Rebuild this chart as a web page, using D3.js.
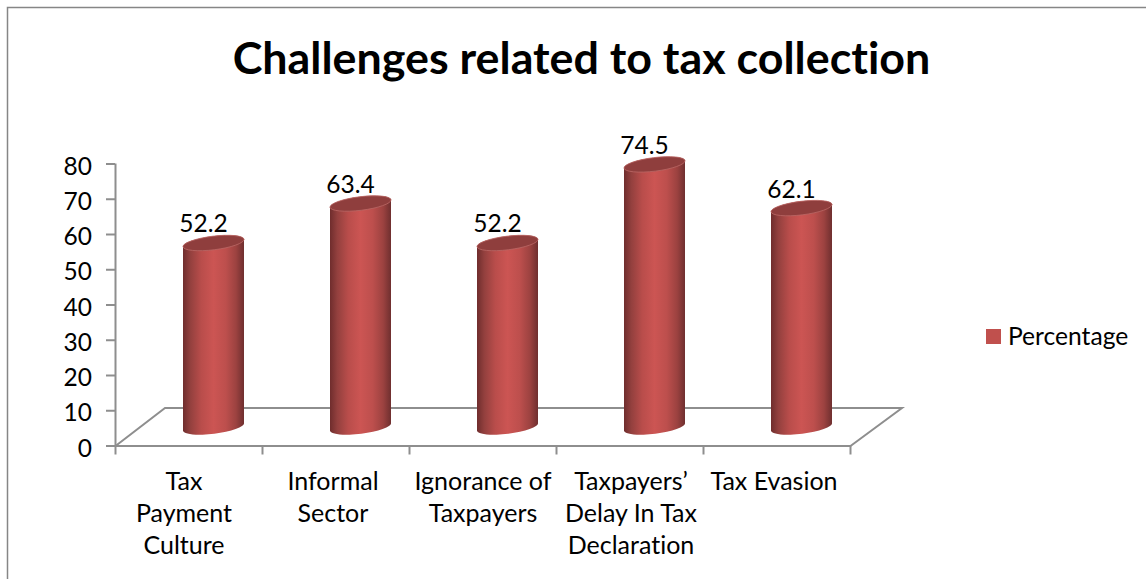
<!DOCTYPE html>
<html>
<head>
<meta charset="utf-8">
<script src="https://cdn.jsdelivr.net/npm/d3@7/dist/d3.min.js"></script>
<style>
html, body { margin: 0; padding: 0; background: #fff; }
svg { display: block; }
text { font-family: Lato, "Open Sans", sans-serif; fill: #000; font-variant-ligatures: none; }
</style>
</head>
<body>
<script>
const categories = ["Tax Payment Culture", "Informal Sector", "Ignorance of Taxpayers", "Taxpayers’ Delay In Tax Declaration", "Tax Evasion"];
const categoryLines = [
  ["Tax", "Payment", "Culture"],
  ["Informal", "Sector"],
  ["Ignorance of", "Taxpayers"],
  ["Taxpayers’", "Delay In Tax", "Declaration"],
  ["Tax Evasion"]
];
const percentages = [52.2, 63.4, 52.2, 74.5, 62.1];
const yTicks = [0, 10, 20, 30, 40, 50, 60, 70, 80];
const titleText = "Challenges related to tax collection";
const seriesName = "Percentage";

const width = 1146, height = 579;
const plot = { left: 115, right: 850, top: 163.5, bottom: 445.5 };
const depth = { dx: 50, dy: -38 };           // floor offset from front edge to back edge
const barW = 61, ellipseRy = 6.8, tilt = -7;
const axisColor = "#8e8e8e";

const svg = d3.select("body").append("svg").attr("width", width).attr("height", height);
const defs = svg.append("defs");

// Horizontal shading that gives each column its rounded look
const shade = defs.append("linearGradient").attr("id", "cylinder");
[[0, "#6f2d2d"], [0.12, "#93403e"], [0.3, "#b94d4b"], [0.5, "#cc5553"], [0.7, "#bd4f4d"], [0.87, "#9c4240"], [1, "#6f2f2f"]]
  .forEach(([o, c]) => shade.append("stop").attr("offset", o).attr("stop-color", c));

// Outer chart frame: only the top and left edges fall inside the view
svg.append("path")
  .attr("d", d3.line()([[7.5, height], [7.5, 7.5], [width, 7.5]]))
  .attr("fill", "none").attr("stroke", "#868686").attr("stroke-width", 1.5);

svg.append("text").attr("x", 581.5).attr("y", 74)
  .attr("text-anchor", "middle").attr("font-weight", 700).attr("font-size", 44.8)
  .text(titleText);

const y = d3.scaleLinear().domain([0, 80]).range([plot.bottom, plot.top]);
const x = d3.scaleBand().domain(categories).range([plot.left, plot.right]);
const xEdges = d3.scaleLinear().domain([0, categories.length]).range([plot.left, plot.right]);

// Floor of the 3D plot area
svg.append("path")
  .attr("d", d3.line()([
    [plot.left + 0.5, plot.bottom + 0.5],
    [plot.left + depth.dx, plot.bottom + depth.dy + 0.5],
    [plot.right + depth.dx + 2, plot.bottom + depth.dy + 0.5],
    [plot.right + 0.5, plot.bottom + 0.5]
  ]))
  .attr("fill", "none").attr("stroke", axisColor).attr("stroke-width", 2);

const yAxis = svg.append("g").attr("transform", `translate(${plot.left},0)`)
  .call(d3.axisLeft(y).tickValues(yTicks).tickSize(9).tickPadding(14));
const xAxis = svg.append("g").attr("transform", `translate(0,${plot.bottom})`)
  .call(d3.axisBottom(xEdges).tickValues(d3.range(categories.length + 1)).tickSize(9).tickFormat(""));
[yAxis, xAxis].forEach(g => {
  g.selectAll("path, line").attr("stroke", axisColor).attr("stroke-width", 2);
  g.select(".domain").attr("d", g === yAxis
    ? `M0.5,${plot.top}V${plot.bottom + 1}`
    : `M${plot.left},0.5H${plot.right + 1}`);
});
yAxis.selectAll("text").attr("font-size", 24.5).style("font-family", "Lato").attr("fill", "#000")
  .attr("dy", "0.43em");

const rad = tilt * Math.PI / 180;
const rx = barW / 2 / Math.cos(rad);
const halfRise = barW / 2 * Math.tan(rad);

const bars = svg.append("g").selectAll("g").data(categories).join("g");
const cx = d => x(d) + x.bandwidth() / 2 + depth.dx / 2;
const base = () => plot.bottom + 0.5 + depth.dy / 2;
const topY = (d, i) => base() - (plot.bottom - y(percentages[i]));

// Column body: straight sides closed by the lower arc and the far rim
bars.append("path")
  .attr("d", (d, i) => {
    const l = cx(d) - barW / 2, r = cx(d) + barW / 2, t = topY(d, i), b = base();
    return `M${l},${t - halfRise}L${l},${b - halfRise}`
      + `A${rx},${ellipseRy} ${tilt} 0 0 ${r},${b + halfRise}`
      + `L${r},${t + halfRise}`
      + `A${rx},${ellipseRy} ${tilt} 0 0 ${l},${t - halfRise}Z`;
  })
  .attr("fill", "url(#cylinder)");

// Column top cap
bars.append("ellipse")
  .attr("rx", rx).attr("ry", ellipseRy)
  .attr("transform", (d, i) => `translate(${cx(d)},${topY(d, i)}) rotate(${tilt})`)
  .attr("fill", "#8f3e3d").attr("stroke", "#b96664").attr("stroke-width", 0.8);

// Value labels above the caps
bars.append("text")
  .attr("x", d => cx(d) - 10)
  .attr("y", (d, i) => topY(d, i) - 10.5)
  .attr("text-anchor", "middle").attr("font-size", 24.5)
  .text((d, i) => percentages[i]);

// Wrapped category labels
const labelNudge = [-4.5, -2.5, 0.5, 1.5, -2.5];
const catLabels = svg.append("g").selectAll("text").data(categories).join("text")
  .attr("text-anchor", "middle").attr("font-size", 25);
catLabels.each(function (d, i) {
  d3.select(this).selectAll("tspan").data(categoryLines[i]).join("tspan")
    .attr("x", x(d) + x.bandwidth() / 2 + labelNudge[i])
    .attr("y", (l, j) => 490 + j * 32)
    .text(l => l);
});

// Legend
const legend = svg.append("g").attr("transform", "translate(986,329)");
legend.append("rect").attr("width", 15).attr("height", 15).attr("fill", "#c0504d");
legend.append("text").attr("x", 22).attr("y", 16).attr("font-size", 24.6).text(seriesName);
</script>
</body>
</html>
